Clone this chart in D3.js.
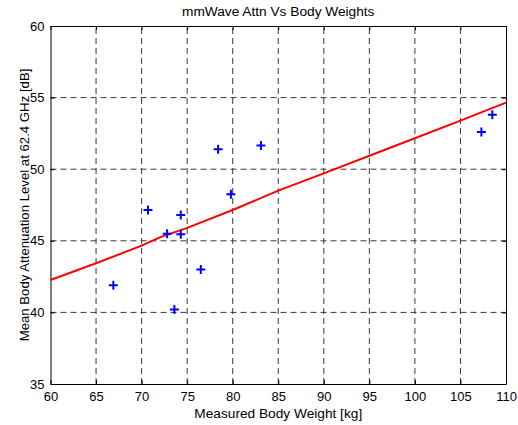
<!DOCTYPE html>
<html>
<head>
<meta charset="utf-8">
<script src="https://cdn.jsdelivr.net/npm/d3@7"></script>
<style>
  body { margin: 0; background: #fff; }
  svg text { font-family: "Liberation Sans", Arial, sans-serif; fill: #000; }
  .grid line { stroke: #3a3a3a; stroke-dasharray: 6,4; }
</style>
</head>
<body>
<div id="chart"></div>
<script>
// measured points
const weights = [66.9, 70.7, 72.8, 73.6, 74.3, 74.3, 76.5, 78.4, 79.8, 83.1, 107.3, 108.5];
const atten = [41.9, 47.15, 45.5, 40.2, 46.8, 45.45, 43.0, 51.4, 48.25, 51.65, 52.6, 53.8];

// fitted trend (red line)
const fitWeights = [60, 65, 70, 72, 75, 80, 85, 90, 95, 100, 105, 110];
const fitAtten = [42.26, 43.43, 44.66, 45.24, 45.9, 47.15, 48.5, 49.71, 50.94, 52.16, 53.39, 54.65];

const xTicks = [60, 65, 70, 75, 80, 85, 90, 95, 100, 105, 110];
const yTicks = [35, 40, 45, 50, 55, 60];

const width = 518, height = 425;
const margin = {top: 26, right: 12, bottom: 41, left: 50.5};

let svg = d3.select("#chart").append("svg")
    .attr("width", width)
    .attr("height", height);

let x = d3.scaleLinear().domain([60, 110]).range([margin.left, width - margin.right]);
let y = d3.scaleLinear().domain([35, 60]).range([height - margin.bottom, margin.top]);

// grid
svg.append("g").attr("class", "grid")
    .selectAll("line")
    .data(xTicks.slice(1, -1))
    .enter().append("line")
    .attr("x1", d => x(d)).attr("x2", d => x(d))
    .attr("y1", y(35)).attr("y2", y(60));
svg.append("g").attr("class", "grid")
    .selectAll("line")
    .data(yTicks.slice(1, -1))
    .enter().append("line")
    .attr("y1", d => y(d)).attr("y2", d => y(d))
    .attr("x1", x(60)).attr("x2", x(110));

// axes (ticks inside, MATLAB style)
svg.append("g")
    .attr("transform", `translate(0,${y(35)})`)
    .call(d3.axisBottom(x).tickValues(xTicks).tickSizeInner(-4).tickSizeOuter(0).tickPadding(8));
svg.append("g")
    .attr("transform", `translate(${x(60)},0)`)
    .call(d3.axisLeft(y).tickValues(yTicks).tickSizeInner(-4).tickSizeOuter(0).tickPadding(6));
svg.append("g")
    .attr("transform", `translate(0,${y(60)})`)
    .call(d3.axisTop(x).tickValues(xTicks).tickSizeInner(-4).tickSizeOuter(0).tickFormat(""));
svg.append("g")
    .attr("transform", `translate(${x(110)},0)`)
    .call(d3.axisRight(y).tickValues(yTicks).tickSizeInner(-4).tickSizeOuter(0).tickFormat(""));

svg.selectAll(".tick text").style("font-size", "13px");
svg.selectAll(".domain, .tick line").attr("stroke", "#000");

// fit line
let line = d3.line()
    .x((d, i) => x(fitWeights[i]))
    .y(d => y(d));
svg.append("path")
    .datum(fitAtten)
    .attr("d", line)
    .attr("fill", "none")
    .attr("stroke", "#ff0000")
    .attr("stroke-width", 2);

// markers
let pts = weights.map((w, i) => [w, atten[i]]);
let s = 4.5;
svg.append("g").selectAll("path")
    .data(pts)
    .enter().append("path")
    .attr("d", d => `M${x(d[0]) - s},${y(d[1])}H${x(d[0]) + s}M${x(d[0])},${y(d[1]) - s}V${y(d[1]) + s}`)
    .attr("stroke", "#0000ff")
    .attr("stroke-width", 2)
    .attr("fill", "none");

// labels
svg.append("text")
    .attr("x", (x(60) + x(110)) / 2).attr("y", 16)
    .attr("text-anchor", "middle")
    .style("font-size", "13.7px")
    .text("mmWave Attn Vs Body Weights");
svg.append("text")
    .attr("x", (x(60) + x(110)) / 2).attr("y", 418)
    .attr("text-anchor", "middle")
    .style("font-size", "13.7px")
    .text("Measured Body Weight [kg]");
svg.append("text")
    .attr("transform", `translate(29,${(y(35) + y(60)) / 2}) rotate(-90)`)
    .attr("text-anchor", "middle")
    .style("font-size", "13.2px")
    .text("Mean Body Attenuation Level at 62.4 GHz [dB]");
</script>
</body>
</html>
